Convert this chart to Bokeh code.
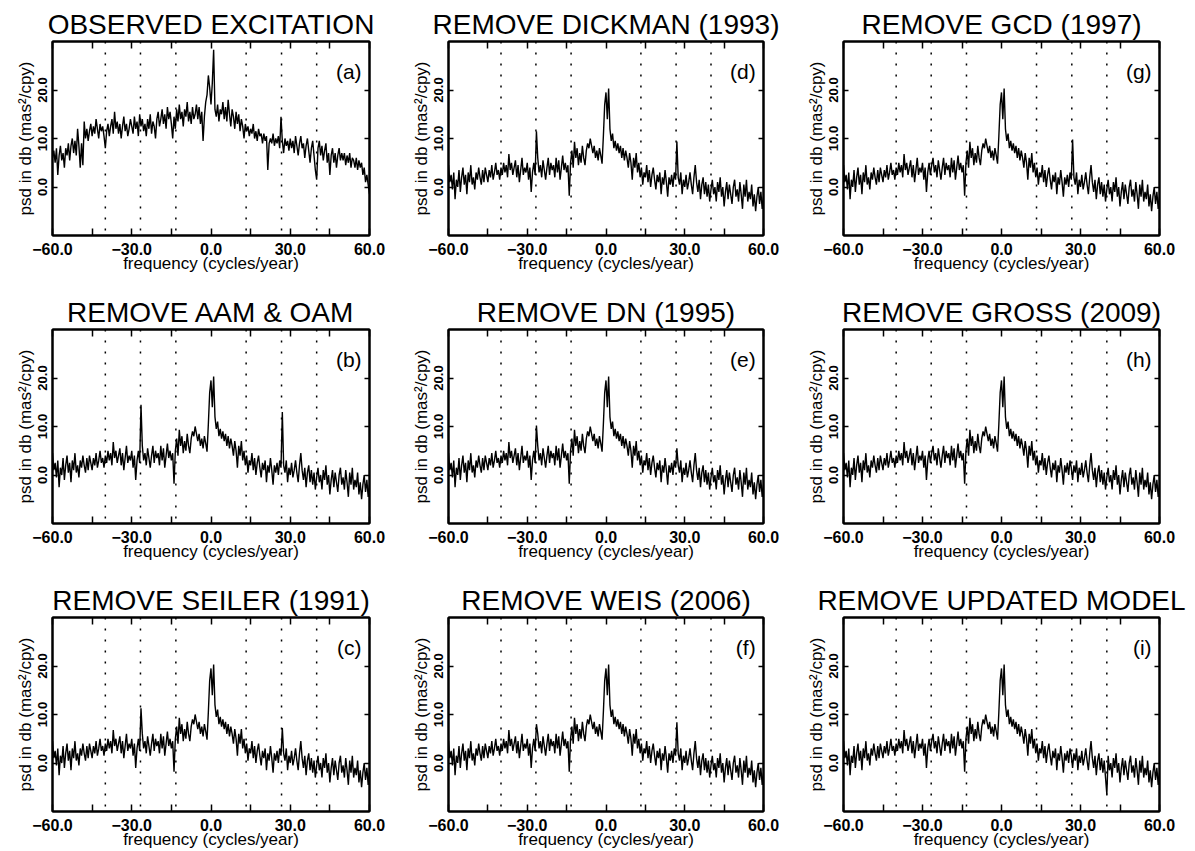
import numpy as np
from bokeh.plotting import figure
from bokeh.models import FixedTicker, LinearAxis, Span, Label, Range1d
from bokeh.layouts import column, row
from bokeh.embed import file_html
from bokeh.resources import INLINE

# frequency grid (cycles/year), step 0.5
freq = list(np.round(np.arange(-60.0, 60.0001, 0.5), 2))

# (a) observed excitation spectrum, dB
psd_observed = [
    6.0, 7.5, 5.0, 8.0, 2.5, 6.5, 8.5, 5.5, 7.0, 4.0,
    8.0, 6.5, 9.0, 5.5, 8.5, 10.0, 7.0, 9.5, 6.5, 12.0,
    8.5, 4.0, 9.0, 4.5, 13.5, 10.0, 12.0, 9.5, 11.5, 13.0,
    10.5, 12.5, 11.0, 14.0, 12.0, 10.0, 13.0, 11.5, 12.5, 10.5,
    8.0, 11.5, 13.0, 10.5, 12.5, 14.0, 11.0, 15.5, 12.0, 13.5,
    11.0, 13.0, 10.0, 12.5, 14.5, 11.5, 13.0, 10.5, 12.0, 14.0,
    12.5, 11.0, 14.5, 12.0, 13.5, 10.5, 15.0, 12.5, 14.0, 11.5,
    13.0, 10.5, 14.0, 12.0, 15.0, 11.0, 13.5, 12.5, 10.0, 14.0,
    15.5, 12.5, 14.0, 16.0, 13.0, 15.0, 12.0, 16.5, 14.0, 15.5,
    13.0, 10.0, 14.5, 12.0, 16.0, 13.5, 17.0, 14.0, 15.5, 12.5,
    16.0, 14.5, 17.5, 13.5, 15.5, 13.0, 16.5, 14.0, 15.0, 17.0,
    14.0, 16.5, 13.0, 15.5, 9.5, 14.5, 17.5, 19.0, 23.0, 20.5,
    17.0, 21.5, 28.3, 16.0, 14.5, 17.0, 13.5, 16.0, 15.0, 17.5,
    14.0, 16.5, 13.5, 18.0, 15.0, 12.5, 16.0, 14.5, 12.0, 15.5,
    13.0, 15.0, 11.5, 14.0, 12.5, 10.0, 13.0, 11.5, 12.5, 10.5,
    12.0, 11.0, 13.0, 10.0, 11.5, 9.5, 12.0, 10.5, 11.0, 9.0,
    11.0, 9.5, 10.5, 3.5, 9.0, 10.0, 9.0, 11.0, 8.5, 10.0,
    9.0, 10.5, 8.0, 14.5, 9.5, 7.0, 10.0, 8.5, 9.5, 7.5,
    10.0, 8.0, 9.5, 7.0, 10.5, 8.5, 6.5, 9.0, 10.5, 8.0,
    9.0, 6.0, 8.5, 10.0, 7.5, 5.0, 8.0, 9.5, 6.5, 3.5,
    1.5, 8.0, 9.5, 6.5, 8.5, 5.5, 7.5, 9.0, 5.0, 7.0,
    2.5, 6.5, 8.0, 5.0, 7.0, 4.0, 6.5, 8.0, 5.5, 7.0,
    5.5, 7.0, 4.5, 6.5, 5.0, 7.0, 4.0, 6.0, 5.5, 4.0,
    6.0, 3.5, 5.5, 4.0, 5.0, 2.5, 4.0, 1.0, 2.5, 0.5,
    -1.5,
]

# residual spectrum after removing AAM & OAM, without tidal lines (dB)
psd_residual = [
    4.5, 1.0, 2.5, -0.5, 3.0, -2.5, 1.5, 0.0, 3.5, -1.0,
    2.0, 4.0, 0.5, 2.5, -1.5, 3.0, 1.0, 4.5, 0.5, 2.0,
    -0.5, 3.0, 1.5, 4.0, 2.0, 0.5, 3.5, 1.0, 4.0, 2.5,
    1.0, 3.5, 2.0, 4.5, 1.5, 3.0, 5.0, 2.5, 3.5, 1.5,
    4.0, 2.5, 5.0, 3.0, 4.5, 2.0, 6.8, 3.5, 5.0, 2.5,
    4.0, 5.5, 2.0, 4.5, 1.0, 3.5, 6.0, 2.5, 4.0, 3.0,
    5.0, 1.5, 4.0, -1.0, 3.0, 5.0, 2.5, 4.5, 6.0, 3.0,
    4.5, 2.0, 5.5, 3.5, 1.5, 4.0, 6.0, 2.5, 5.0, 3.5,
    4.5, 2.0, 6.0, 3.0, 5.5, 1.5, 4.0, 6.5, 3.5, 5.0,
    3.0, 4.5, -1.8, 5.0, 7.5, 4.0, 9.3, 6.0, 8.0, 4.5,
    7.0, 5.0, 8.5, 6.0, 4.5, 7.5, 9.0, 8.0, 10.0, 8.5,
    7.0, 8.5, 6.0, 7.5, 5.5, 8.0, 6.5, 4.8, 10.5, 17.0,
    19.5, 14.0, 20.3, 12.0, 9.5, 11.0, 8.0, 9.5, 7.5, 9.0,
    7.0, 8.5, 6.0, 8.0, 5.5, 7.5, 6.0, 4.0, 7.0, 5.0,
    1.5, 6.0, 4.0, 7.0, 3.0, 5.0, 2.0, 4.0, 0.5, 3.0,
    2.0, 4.5, 1.0, 3.5, 0.0, 2.5, 4.0, 1.5, -0.5, 2.5,
    1.0, 3.0, -1.5, 2.0, 0.5, 3.5, 1.0, -2.0, 2.0, 0.5,
    2.5, 0.0, 3.0, 1.5, -1.0, 2.0, 0.5, 3.0, -1.5, 1.5,
    0.0, 2.5, -0.5, 1.0, 3.0, 0.5, -1.5, 2.0, 4.5, 1.0,
    -1.0, 1.5, -2.5, 0.5, 2.0, -1.5, 1.0, -2.0, 0.5, -3.0,
    -0.5, 1.5, -1.5, 0.0, -3.0, 1.0, -1.0, 2.0, -2.0, 0.0,
    -4.0, -1.0, 1.0, -2.5, 0.5, -1.5, -3.5, 0.0, 1.5, -2.0,
    -0.5, -3.0, 1.0, -1.5, -4.5, 0.5, -2.0, 1.5, -3.0, -1.0,
    -2.5, 0.5, -4.0, -1.5, -5.0, -2.0, 0.0, -3.5, -1.0, -4.5,
    -2.0,
]

# remaining tidal-line values per panel: (frequency, dB)
lines_b = [(-26.5, 14.5), (27.0, 13.0)]
lines_c = [(-26.5, 11.3), (27.0, 7.2)]
lines_d = [(-26.5, 11.5), (27.0, 9.4)]
lines_e = [(-26.5, 10.2), (27.0, 5.5)]
lines_f = [(-26.5, 8.0), (27.0, 8.4)]
lines_g = [(27.0, 9.8)]
lines_h = []
lines_i = [(40.0, -6.5)]

# tidal frequencies marked with dotted lines (cycles/year)
tidal_freqs = [-40.0, -26.7, -13.3, 13.3, 26.7, 40.0]

x_ticks = [-60, -30, 0, 30, 60]
x_tick_labels = ["\u221260.0", "\u221230.0", "0.0", "30.0", "60.0"]
x_minor = [-45, -15, 15, 45]
y_ticks = [0, 10, 20]
y_tick_labels = ["0.0", "10.0", "20.0"]


def residual_with(lines):
    vals = list(psd_residual)
    for f, v in lines:
        vals[freq.index(f)] = v
    return vals


panels = [
    [("OBSERVED EXCITATION", "(a)", psd_observed),
     ("REMOVE DICKMAN (1993)", "(d)", residual_with(lines_d)),
     ("REMOVE GCD (1997)", "(g)", residual_with(lines_g))],
    [("REMOVE AAM & OAM", "(b)", residual_with(lines_b)),
     ("REMOVE DN (1995)", "(e)", residual_with(lines_e)),
     ("REMOVE GROSS (2009)", "(h)", residual_with(lines_h))],
    [("REMOVE SEILER (1991)", "(c)", residual_with(lines_c)),
     ("REMOVE WEIS (2006)", "(f)", residual_with(lines_f)),
     ("REMOVE UPDATED MODEL", "(i)", residual_with(lines_i))],
]

FONT = "Liberation Sans"
frame_w = [317, 315, 316]
left_b = [52, 44, 44]
right_b = [35, 36, 27]
top_b = [41, 36, 36]
bottom_b = [58, 58, 30]


def base_axis(ax):
    ax.axis_line_color = "black"
    ax.axis_line_width = 2
    ax.major_tick_line_color = "black"
    ax.minor_tick_line_color = "black"
    ax.major_tick_line_width = 1.5
    ax.minor_tick_line_width = 1.5
    ax.major_tick_out = 0
    ax.minor_tick_out = 0


def label_axis(ax, is_x):
    base_axis(ax)
    if is_x:
        ax.ticker = FixedTicker(ticks=x_ticks, minor_ticks=x_minor)
        ax.major_tick_in = 7
        ax.minor_tick_in = 7
        ax.major_label_overrides = dict(zip(x_ticks, x_tick_labels))
        ax.major_label_text_font_size = "16px"
    else:
        ax.ticker = FixedTicker(ticks=y_ticks, minor_ticks=[])
        ax.major_tick_in = 5
        ax.minor_tick_in = 0
        ax.major_label_overrides = dict(zip(y_ticks, y_tick_labels))
        ax.major_label_text_font_size = "13px"
        ax.major_label_orientation = "vertical"
    ax.major_label_text_font = FONT
    ax.major_label_text_font_style = "bold"
    ax.major_label_text_color = "black"
    ax.axis_label_text_font = FONT
    ax.axis_label_text_font_size = "17px"
    ax.axis_label_text_font_style = "normal"
    ax.axis_label_text_color = "black"


def mirror_axis(is_x):
    ax = LinearAxis()
    base_axis(ax)
    # ticks only (as minor ticks), no labels
    if is_x:
        ax.ticker = FixedTicker(ticks=[], minor_ticks=x_ticks + x_minor)
        ax.minor_tick_in = 7
    else:
        ax.ticker = FixedTicker(ticks=[], minor_ticks=y_ticks)
        ax.minor_tick_in = 5
    ax.major_tick_in = 0
    ax.major_label_standoff = 0
    return ax


figs = []
for r, prow in enumerate(panels):
    rfigs = []
    for c, (title, tag, vals) in enumerate(prow):
        p = figure(frame_width=frame_w[c], frame_height=194,
                   x_range=Range1d(-60, 60), y_range=Range1d(-10, 30),
                   output_backend="svg", toolbar_location=None,
                   min_border_left=left_b[c], min_border_right=right_b[c],
                   min_border_top=top_b[r], min_border_bottom=bottom_b[r],
                   background_fill_color="white", border_fill_color="white")
        p.title.text = title
        p.title.text_font = FONT
        p.title.text_font_size = "28px"
        p.title.text_font_style = "normal"
        p.title.text_color = "black"
        p.title.align = "center"
        p.title.standoff = 3
        p.outline_line_color = "black"
        p.outline_line_width = 2
        p.xgrid.grid_line_color = None
        p.ygrid.grid_line_color = None

        label_axis(p.xaxis[0], True)
        p.xaxis[0].axis_label = "frequency (cycles/year)"
        p.xaxis[0].major_label_standoff = 7
        p.xaxis[0].axis_label_standoff = -4
        label_axis(p.yaxis[0], False)
        p.yaxis[0].axis_label = "psd in db (mas\u00b2/cpy)"
        p.yaxis[0].major_label_standoff = 6
        p.yaxis[0].axis_label_standoff = 0

        p.add_layout(mirror_axis(True), "above")
        p.add_layout(mirror_axis(False), "right")

        for f in tidal_freqs:
            p.add_layout(Span(location=f, dimension="height", line_color="black",
                              line_width=1.5, line_dash="2 9"))

        p.line(freq, vals, line_color="black", line_width=1.4)

        p.add_layout(Label(x=57, y=23.8, text=tag, text_align="right",
                           text_baseline="middle", text_font=FONT,
                           text_font_size="21px", text_color="black"))
        rfigs.append(p)
    figs.append(row(*rfigs))

layout = column(*figs)
open("out.html", "w").write(file_html(layout, INLINE))
